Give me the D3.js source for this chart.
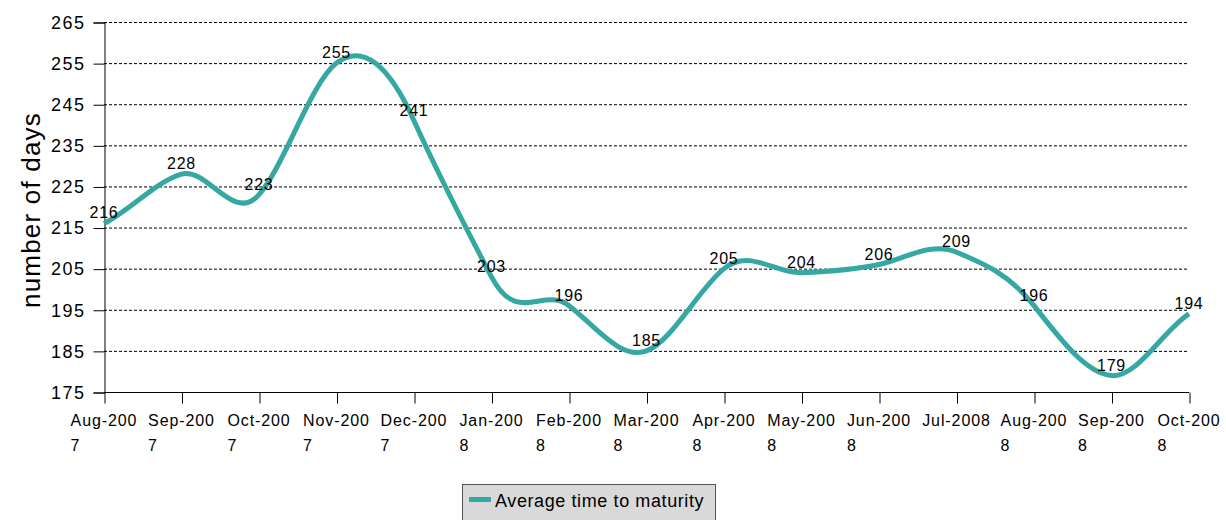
<!DOCTYPE html>
<html>
<head>
<meta charset="utf-8">
<script src="https://cdn.jsdelivr.net/npm/d3@7"></script>
<style>
  html, body { margin: 0; padding: 0; background: #fff; }
  svg { display: block; font-family: "Liberation Sans", Arial, sans-serif; }
</style>
</head>
<body>
<svg id="chart" width="1226" height="520"></svg>
<script>
const months = ["Aug-2007","Sep-2007","Oct-2007","Nov-2007","Dec-2007","Jan-2008","Feb-2008",
                "Mar-2008","Apr-2008","May-2008","Jun-2008","Jul-2008","Aug-2008","Sep-2008","Oct-2008"];
const values = [216, 228, 223, 255, 241, 203, 196, 185, 205, 204, 206, 209, 196, 179, 194];
const yTicks = [175, 185, 195, 205, 215, 225, 235, 245, 255, 265];
const seriesName = "Average time to maturity";
const yTitle = "number of days";

const svg = d3.select("#chart");
const plotL = 104, plotR = 1189, plotT = 22, plotB = 392;
const color = "#36a8a3";

const x = d3.scalePoint().domain(months).range([plotL, plotR]);
const y = d3.scaleLinear().domain([175, 265]).range([plotB, plotT]);

// Excel-like smoothed curve: Hermite segments with amplified central-difference slopes
function smoothCurve(context) {
  let pts = [];
  const s = 1.6;
  return {
    areaStart() {}, areaEnd() {},
    lineStart() { pts = []; },
    point(px, py) { pts.push([+px, +py]); },
    lineEnd() {
      const n = pts.length;
      if (!n) return;
      const m = pts.map((p, i) => {
        const a = pts[Math.max(0, i - 1)], b = pts[Math.min(n - 1, i + 1)];
        return (b[1] - a[1]) / (b[0] - a[0]) * (i === 0 || i === n - 1 ? 0.5 : 1) * s;
      });
      context.moveTo(pts[0][0], pts[0][1]);
      for (let i = 0; i < n - 1; i++) {
        const h = (pts[i + 1][0] - pts[i][0]) / 3;
        context.bezierCurveTo(pts[i][0] + h, pts[i][1] + m[i] * h,
                              pts[i + 1][0] - h, pts[i + 1][1] - m[i + 1] * h,
                              pts[i + 1][0], pts[i + 1][1]);
      }
    }
  };
}

// gridlines
svg.append("g").selectAll("line").data(yTicks).join("line")
  .attr("x1", plotL).attr("x2", plotR)
  .attr("y1", d => y(d) + 0.5).attr("y2", d => y(d) + 0.5)
  .attr("stroke", "#000").attr("stroke-width", 1).attr("stroke-dasharray", "3,2");

// y axis
const yAxis = svg.append("g").attr("transform", `translate(${plotL + 0.5},0.5)`)
  .call(d3.axisLeft(y).tickValues(yTicks).tickSize(11).tickPadding(8));
yAxis.select(".domain").attr("stroke", "#000");
yAxis.selectAll(".tick line").attr("stroke", "#000");
yAxis.selectAll("text").attr("font-size", 18).attr("fill", "#000")
  .attr("font-family", "Liberation Sans, Arial, sans-serif").attr("letter-spacing", 1.5);

// x axis
const xAxis = svg.append("g").attr("transform", `translate(0.5,${plotB + 0.5})`)
  .call(d3.axisBottom(x).tickSize(11).tickFormat(""));
xAxis.select(".domain").remove();
xAxis.selectAll(".tick line").attr("stroke", "#000");
svg.append("line").attr("x1", plotL).attr("x2", plotR).attr("y1", plotB + 0.5).attr("y2", plotB + 0.5)
  .attr("stroke", "#000");

const xl = svg.append("g");
months.forEach(m => {
  const wrap = !m.startsWith("Jul");
  const lines = wrap ? [m.slice(0, 7), m.slice(7)] : [m];
  const g = xl.append("g");
  const t1 = g.append("text").attr("x", x(m)).attr("y", 426).attr("text-anchor", "middle")
    .attr("font-size", 16).attr("letter-spacing", 0.9).attr("fill", "#000").text(lines[0]);
  if (wrap) {
    const w = t1.node().getComputedTextLength();
    g.append("text").attr("x", x(m) - w / 2).attr("y", 451)
      .attr("font-size", 16).attr("fill", "#000").text(lines[1]);
  }
});

// y title
svg.append("text").attr("transform", "translate(40,210) rotate(-90)")
  .attr("text-anchor", "middle").attr("font-size", 26).attr("letter-spacing", 1.2)
  .attr("fill", "#000").text(yTitle);

// line
const line = d3.line().x((d, i) => x(months[i])).y(d => y(d)).curve(smoothCurve);
svg.append("path").datum(values).attr("d", line)
  .attr("fill", "none").attr("stroke", color).attr("stroke-width", 5).attr("stroke-linejoin", "round");

// data labels
svg.append("g").selectAll("text").data(values).join("text")
  .attr("x", (d, i) => x(months[i])).attr("y", d => y(d) - 5)
  .attr("text-anchor", "middle").attr("font-size", 16).attr("letter-spacing", 0.8)
  .attr("fill", "#000").text(d => d);

// legend
const lg = svg.append("g");
lg.append("rect").attr("x", 462.5).attr("y", 484.5).attr("width", 253).attr("height", 50)
  .attr("fill", "#d9d9d9").attr("stroke", "#555");
lg.append("rect").attr("x", 469).attr("y", 497).attr("width", 22).attr("height", 5).attr("fill", color);
lg.append("text").attr("x", 495).attr("y", 507).attr("font-size", 18).attr("letter-spacing", 0.6)
  .attr("fill", "#000").text(seriesName);
</script>
</body>
</html>
